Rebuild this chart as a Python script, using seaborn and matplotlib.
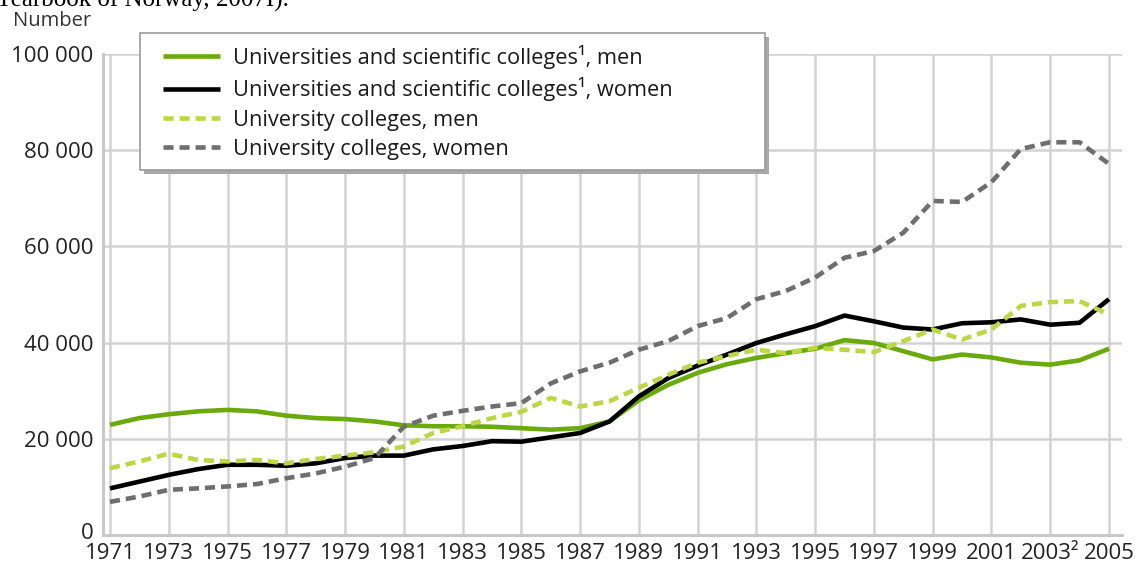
import matplotlib
matplotlib.use("Agg")
import matplotlib.pyplot as plt
from matplotlib.patches import Rectangle
from matplotlib.transforms import ScaledTranslation
import seaborn as sns
import pandas as pd

years = list(range(1971, 2006))

uni_men = [22900, 24300, 25100, 25700, 26000, 25700, 24800, 24300, 24100, 23600,
           22800, 22600, 22600, 22500, 22200, 21900, 22200, 23600, 28000, 31200,
           33700, 35500, 36800, 37800, 38700, 40500, 39900, 38200, 36500, 37500,
           36900, 35800, 35400, 36300, 38700]
uni_women = [9700, 11100, 12500, 13700, 14600, 14600, 14400, 14900, 16000, 16500,
             16500, 17800, 18500, 19500, 19400, 20300, 21200, 23600, 28800, 32600,
             35200, 37500, 39900, 41700, 43400, 45600, 44400, 43100, 42700, 44000,
             44200, 44800, 43700, 44100, 49000]
col_men = [13900, 15300, 16900, 15600, 15300, 15600, 14900, 15800, 16500, 17200,
           18400, 21200, 22600, 24300, 25600, 28500, 26700, 27800, 30600, 33300,
           35800, 37200, 38500, 37800, 38900, 38500, 38000, 40300, 42700, 40600,
           42700, 47600, 48400, 48600, 45800]
col_women = [6900, 8000, 9400, 9700, 10100, 10600, 11800, 12800, 14200, 16000,
             22500, 24800, 25800, 26700, 27400, 31500, 34000, 35800, 38500, 40300,
             43400, 45100, 49000, 50700, 53500, 57600, 59000, 62800, 69400, 69200,
             73300, 80200, 81600, 81600, 77100]

series_labels = ["Universities and scientific colleges\u00b9, men",
                 "Universities and scientific colleges\u00b9, women",
                 "University colleges, men",
                 "University colleges, women"]

xtick_years = list(range(1971, 2006, 2))
xtick_labels = [str(y) if y != 2003 else "2003\u00b2" for y in xtick_years]
ytick_values = [0, 20000, 40000, 60000, 80000, 100000]
ytick_labels = ["0", "20 000", "40 000", "60 000", "80 000", "100 000"]

sns.set_theme(style="white")
plt.rcParams['font.family'] = ['Open Sans', 'DejaVu Sans']

W, H = 1135, 565
fig = plt.figure(figsize=(W / 100, H / 100), dpi=100)
ax = fig.add_axes([0.0907, 0.053, 0.898, 0.852])

styles = [
    (uni_men, "#6aaa0c", (0, ())),
    (uni_women, "#000000", (0, ())),
    (col_men, "#bcd645", (0, (2.2, 1.3))),
    (col_women, "#6e6e6e", (0, (2.2, 1.3))),
]
for (vals, color, ls), label in zip(styles, series_labels):
    df = pd.DataFrame({"year": years, "value": vals})
    sns.lineplot(data=df, x="year", y="value", ax=ax, color=color,
                 linewidth=3.3, linestyle=ls, label=label)

handles, labels = ax.get_legend_handles_labels()
if ax.get_legend() is not None:
    ax.get_legend().remove()

ax.set_xlim(1970.76, 2005.45)
ax.set_ylim(0, 100000)
ax.set_xticks(xtick_years)
ax.set_xticklabels(xtick_labels, fontsize=16, color="#222222")
ax.set_yticks(ytick_values)
ax.set_yticklabels(ytick_labels, fontsize=16, color="#222222")
ax.set_xlabel("")
ax.set_ylabel("")
ax.grid(True, color="#d2d2d2", linewidth=1.8)
ax.set_axisbelow(True)
for side in ["top", "right"]:
    ax.spines[side].set_visible(False)
for side in ["left", "bottom"]:
    ax.spines[side].set_color("#c8c8c8")
    ax.spines[side].set_linewidth(2.2)
ax.tick_params(axis="y", length=4, width=1.5, color="#c8c8c8", pad=3)
ax.tick_params(axis="x", length=0, pad=6)
# nudge the zero label slightly upward, as in the reference
zero_lbl = ax.get_yticklabels()[0]
zero_lbl.set_transform(zero_lbl.get_transform() +
                       ScaledTranslation(0, 4 / 100, fig.dpi_scale_trans))

# legend frame with shadow (figure coordinates)
lx0, lx1, ly0, ly1 = 140, 765, 33, 170
fig.patches.append(Rectangle(((lx0 + 4) / W, 1 - (ly1 + 4) / H),
                             (lx1 - lx0) / W, (ly1 - ly0) / H,
                             transform=fig.transFigure, facecolor="#a8a8a8",
                             edgecolor="none", zorder=2))
fig.patches.append(Rectangle((lx0 / W, 1 - ly1 / H),
                             (lx1 - lx0) / W, (ly1 - ly0) / H,
                             transform=fig.transFigure, facecolor="white",
                             edgecolor="#9a9a9a", linewidth=1.2, zorder=3))

leg = fig.legend(handles, labels, loc="upper left",
                 bbox_to_anchor=(163 / W, 1 - 45 / H),
                 bbox_transform=fig.transFigure, borderaxespad=0, borderpad=0,
                 fontsize=15.7, frameon=False,
                 handlelength=2.6, handletextpad=0.6, labelspacing=0.38)
leg.set_zorder(6)
for t in leg.get_texts():
    t.set_color("#1a1a1a")

fig.text(13 / W, 1 - 21 / H, "Number", fontsize=14.5, color="#333333",
         va="center", ha="left")
fig.text(-0.004, 1 - 7 / H, "Yearbook of Norway, 2007I).", fontsize=18,
         family="Liberation Serif", va="baseline", ha="left", color="#000000")

fig.savefig("out.png", dpi=100)
